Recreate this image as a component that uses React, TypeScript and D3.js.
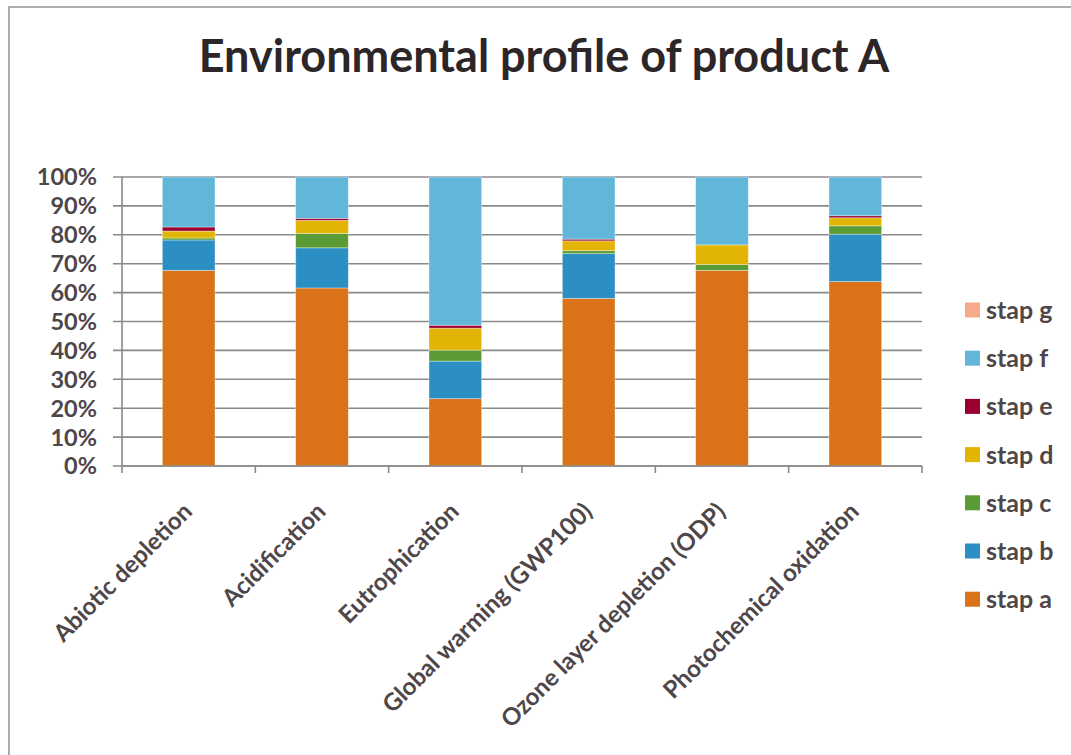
import React from "react";
import * as d3 from "d3";

// Impact categories along the x axis
const categories = [
  "Abiotic depletion",
  "Acidification",
  "Eutrophication",
  "Global warming (GWP100)",
  "Ozone layer depletion (ODP)",
  "Photochemical oxidation",
];

// Share (%) of each life-cycle step per impact category
const stapA = [67.7, 61.6, 23.3, 58.0, 67.7, 63.8];
const stapB = [10.5, 13.9, 13.0, 15.5, 0.0, 16.4];
const stapC = [0.7, 5.0, 3.8, 1.0, 2.0, 2.9];
const stapD = [2.4, 4.5, 7.6, 3.4, 6.8, 2.8];
const stapE = [1.4, 0.7, 1.0, 0.6, 0.0, 0.7];
const stapF = [17.3, 14.3, 51.3, 21.5, 23.5, 13.4];
const stapG = [0.0, 0.0, 0.0, 0.0, 0.0, 0.0];

const seriesNames = ["stap a", "stap b", "stap c", "stap d", "stap e", "stap f", "stap g"];
const seriesValues = [stapA, stapB, stapC, stapD, stapE, stapF, stapG];
const seriesColors = ["#d97219", "#2b8fc4", "#5a9b35", "#e2b403", "#9a0030", "#62b6da", "#f8a98b"];

const yTicks = [0, 10, 20, 30, 40, 50, 60, 70, 80, 90, 100];

const W = 1071;
const H = 755;
const plot = { left: 122, right: 922, top: 177, bottom: 466 };
const FONT = "Lato, 'Open Sans', sans-serif";
const TEXT = "#4f4649";
const GRID = "#8a8a8a";

export default function App() {
  const rows = categories.map((c, i) => {
    const r: Record<string, any> = { category: c };
    seriesNames.forEach((s, k) => (r[s] = seriesValues[k][i]));
    return r;
  });
  const stacked = d3.stack().keys(seriesNames)(rows as any);

  const x = d3
    .scaleBand<string>()
    .domain(categories)
    .range([plot.left, plot.right])
    .paddingInner(0.605)
    .paddingOuter(0.3025);
  const step = x.step();
  const y = d3.scaleLinear().domain([0, 100]).range([plot.bottom, plot.top]);

  const legendItems = seriesNames.map((n, i) => ({ name: n, color: seriesColors[i] })).reverse();

  return (
    <svg
      width={W}
      height={H}
      style={{ position: "absolute", left: 0, top: 0, background: "#fff" }}
      fontFamily={FONT}
    >
      {/* chart area frame */}
      <rect x={9} y={7} width={1200} height={900} fill="none" stroke="#8c8c8c" strokeWidth={1.4} />

      <text x={544} y={72} textAnchor="middle" fontSize={45} fontWeight={700} fill="#2c2628">
        Environmental profile of product A
      </text>

      {/* horizontal gridlines with left tick marks */}
      {yTicks.map((t) => (
        <g key={t}>
          <line x1={113} x2={plot.right} y1={y(t)} y2={y(t)} stroke={GRID} strokeWidth={1.6} />
          <text
            x={97}
            y={y(t)}
            dy="0.36em"
            textAnchor="end"
            fontSize={23.5}
            fontWeight={700}
            fill={TEXT}
          >
            {t}%
          </text>
        </g>
      ))}

      {/* stacked bars */}
      {stacked.map((layer, k) => (
        <g key={layer.key} fill={seriesColors[k]}>
          {layer.map((d, i) =>
            d[1] - d[0] > 0 ? (
              <rect
                key={i}
                x={x(categories[i])}
                width={x.bandwidth()}
                y={y(d[1])}
                height={y(d[0]) - y(d[1])}
                stroke="rgba(255,255,255,0.45)"
                strokeWidth={0.8}
              />
            ) : null
          )}
        </g>
      ))}

      {/* axes */}
      <line x1={plot.left} x2={plot.left} y1={plot.top} y2={plot.bottom} stroke={GRID} strokeWidth={1.6} />
      <line x1={plot.left} x2={plot.right} y1={plot.bottom} y2={plot.bottom} stroke={GRID} strokeWidth={1.6} />
      {d3.range(categories.length + 1).map((i) => (
        <line
          key={i}
          x1={plot.left + i * step}
          x2={plot.left + i * step}
          y1={plot.bottom}
          y2={plot.bottom + 7}
          stroke={GRID}
          strokeWidth={1.6}
        />
      ))}

      {/* rotated category labels */}
      {categories.map((c) => {
        const cx = (x(c) as number) + x.bandwidth() / 2;
        return (
          <text
            key={c}
            transform={`translate(${cx + 5},${plot.bottom + 47}) rotate(-45)`}
            textAnchor="end"
            fontSize={24}
            fontWeight={700}
            fill={TEXT}
          >
            {c}
          </text>
        );
      })}

      {/* legend */}
      {legendItems.map((it, i) => {
        const cy = 310 + i * 48.2;
        return (
          <g key={it.name}>
            <rect x={965} y={cy - 7.5} width={15} height={15} fill={it.color} />
            <text x={986} y={cy} dy="0.36em" fontSize={25} fontWeight={700} fill={TEXT}>
              {it.name}
            </text>
          </g>
        );
      })}
    </svg>
  );
}
